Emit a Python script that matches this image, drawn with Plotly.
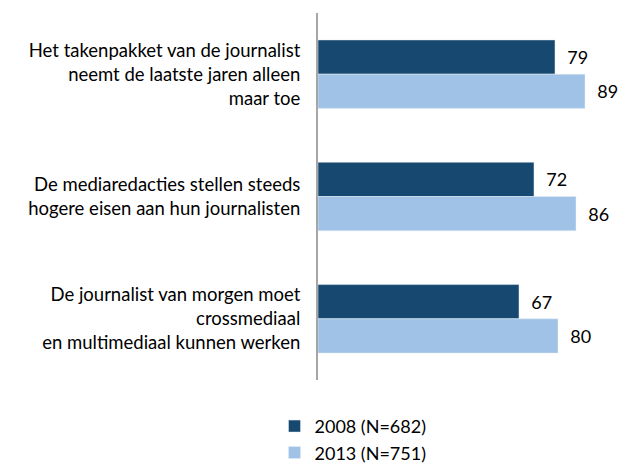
import plotly.graph_objects as go

categories = [
    "Het takenpakket van de journalist<br>neemt de laatste jaren alleen<br>maar toe",
    "De mediaredacties stellen steeds<br>hogere eisen aan hun journalisten",
    "De journalist van morgen moet<br>crossmediaal<br>en multimediaal kunnen werken",
]
values_2008 = [79, 72, 67]
values_2013 = [89, 86, 80]
series_names = ["2008 (N=682)", "2013 (N=751)"]

font_family = "Lato, 'Open Sans', sans-serif"

fig = go.Figure()
fig.add_trace(go.Bar(
    y=categories, x=values_2008, name=series_names[0], orientation="h",
    marker=dict(color="#17486F"),
    text=["  " + str(v) for v in values_2008], textposition="outside",
    textfont=dict(size=18, color="#000000"), cliponaxis=False,
))
fig.add_trace(go.Bar(
    y=categories, x=values_2013, name=series_names[1], orientation="h",
    marker=dict(color="#9FC2E6"),
    text=["  " + str(v) for v in values_2013], textposition="outside",
    textfont=dict(size=18, color="#000000"), cliponaxis=False,
))

fig.update_layout(
    width=622, height=464,
    margin=dict(l=318, r=4, t=13, b=84, autoexpand=False),
    paper_bgcolor="white", plot_bgcolor="white",
    barmode="group", bargap=0.44, bargroupgap=0,
    font=dict(family=font_family, size=18.5, color="#000000"),
    showlegend=True,
    uniformtext=dict(minsize=18, mode="show"),
    legend=dict(
        orientation="v", x=-0.145, xanchor="left", y=-0.076, yanchor="top",
        font=dict(size=18), tracegroupgap=0, itemwidth=30,
    ),
)
fig.update_xaxes(range=[0, 100], visible=False)
fig.update_yaxes(
    autorange="reversed", showline=True, linecolor="#A6A6A6", linewidth=2,
    ticks="", ticklabelstandoff=12, showgrid=False, automargin=False,
)

# drop the default body margin so the figure fills the window exactly
fig.write_html(
    "out.html",
    config={"displayModeBar": False},
    post_script="document.body.style.margin='0';document.body.style.overflow='hidden';",
)
